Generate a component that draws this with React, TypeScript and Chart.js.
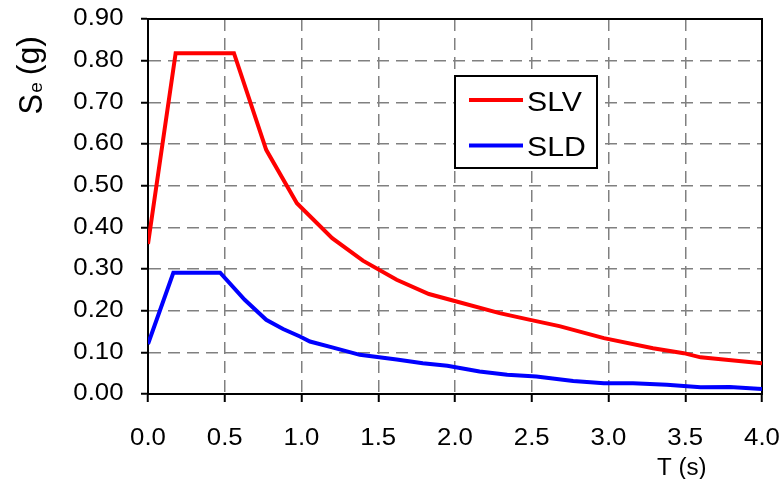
import React, { useEffect, useRef } from "react";
import { Chart, registerables } from "chart.js";

Chart.register(...registerables);

// ---- data ----
const seriesNames = ["SLV", "SLD"];
const seriesColors = ["#ff0000", "#0000ff"];

const periodsSLV = [0, 0.18, 0.56, 0.77, 0.97, 1.2, 1.4, 1.62, 1.83, 2.01, 2.29, 2.49, 2.68, 2.97, 3.29, 3.49, 3.6, 4.0];
const seSLV = [0.36, 0.818, 0.818, 0.586, 0.458, 0.374, 0.32, 0.274, 0.24, 0.222, 0.194, 0.178, 0.163, 0.134, 0.11, 0.098, 0.088, 0.074];

const periodsSLD = [0, 0.165, 0.47, 0.63, 0.77, 0.88, 0.99, 1.055, 1.2, 1.38, 1.62, 1.79, 1.95, 2.16, 2.34, 2.53, 2.77, 2.97, 3.16, 3.38, 3.6, 3.79, 4.0];
const seSLD = [0.12, 0.291, 0.291, 0.226, 0.178, 0.156, 0.138, 0.126, 0.112, 0.094, 0.083, 0.074, 0.068, 0.054, 0.046, 0.042, 0.031, 0.026, 0.026, 0.022, 0.016, 0.017, 0.012];

const xTickValues = [0, 0.5, 1, 1.5, 2, 2.5, 3, 3.5, 4];
const yTickValues = [0, 0.1, 0.2, 0.3, 0.4, 0.5, 0.6, 0.7, 0.8, 0.9];
const xTitle = "T (s)";
const yTitleMain = "S";
const yTitleSub = "e";
const yTitleUnit = "(g)";

const FONT = "'Liberation Sans', Arial, Helvetica, sans-serif";

function stretchedText(
  ctx: CanvasRenderingContext2D,
  text: string,
  x: number,
  y: number,
  font: string,
  align: CanvasTextAlign,
  baseline: CanvasTextBaseline,
  sx: number
) {
  ctx.save();
  ctx.translate(x, y);
  ctx.scale(sx, 1);
  ctx.font = font;
  ctx.textAlign = align;
  ctx.textBaseline = baseline;
  ctx.fillStyle = "#000";
  ctx.fillText(text, 0, 0);
  ctx.restore();
}

const framePlugin = {
  id: "frame",
  beforeDatasetsDraw(chart: any) {
    const { ctx, chartArea } = chart;
    ctx.save();
    ctx.strokeStyle = "#000";
    ctx.lineWidth = 2;
    ctx.strokeRect(chartArea.left, chartArea.top, chartArea.right - chartArea.left, chartArea.bottom - chartArea.top);
    ctx.restore();
  },
};

const textPlugin = {
  id: "texts",
  afterDraw(chart: any) {
    const { ctx } = chart;
    const xs = chart.scales.x;
    const ys = chart.scales.y;
    // tick labels
    xs.ticks.forEach((t: any) => {
      stretchedText(ctx, String(t.label), xs.getPixelForValue(t.value), 438.5, `23px ${FONT}`, "center", "middle", 1.12);
    });
    ys.ticks.forEach((t: any) => {
      stretchedText(ctx, String(t.label), 123.5, ys.getPixelForValue(t.value), `23px ${FONT}`, "right", "middle", 1.12);
    });
    // x title
    stretchedText(ctx, xTitle, 657, 475, `23px ${FONT}`, "left", "alphabetic", 1.05);

    // y title (rotated)
    ctx.save();
    ctx.translate(41.5, 114.5);
    ctx.rotate(-Math.PI / 2);
    ctx.fillStyle = "#000";
    ctx.textAlign = "left";
    ctx.textBaseline = "alphabetic";
    ctx.save();
    ctx.scale(0.9, 1);
    ctx.font = `34px ${FONT}`;
    ctx.fillText(yTitleMain, 0, 0);
    ctx.restore();
    ctx.font = `19px ${FONT}`;
    ctx.fillText(yTitleSub, 21.8, 0);
    ctx.font = `32px ${FONT}`;
    ctx.fillText(yTitleUnit, 39.3, -3);
    ctx.restore();

    // legend
    ctx.save();
    ctx.fillStyle = "#fff";
    ctx.fillRect(455, 76, 142, 92);
    ctx.strokeStyle = "#000";
    ctx.lineWidth = 2;
    ctx.strokeRect(455, 76, 142, 92);
    const rows = [100, 145.5];
    chart.data.datasets.forEach((ds: any, i: number) => {
      const y = rows[i];
      ctx.strokeStyle = ds.borderColor;
      ctx.lineWidth = 4;
      ctx.beginPath();
      ctx.moveTo(469, y);
      ctx.lineTo(523, y);
      ctx.stroke();
      stretchedText(ctx, ds.label, 527, y + 10.5, `28px ${FONT}`, "left", "alphabetic", 1.08);
    });
    ctx.restore();
  },
};

export default function App() {
  const canvasRef = useRef<HTMLCanvasElement | null>(null);

  useEffect(() => {
    const canvas = canvasRef.current;
    if (!canvas) return;
    const toPoints = (xs: number[], ys: number[]) => xs.map((x, i) => ({ x, y: ys[i] }));
    const gridCommon = {
      color: "#808080",
      lineWidth: 1.5,
      tickColor: "#000",
      tickWidth: 2,
    };
    const chart = new Chart(canvas, {
      type: "line",
      data: {
        datasets: [
          {
            label: seriesNames[0],
            data: toPoints(periodsSLV, seSLV),
            borderColor: seriesColors[0],
            backgroundColor: seriesColors[0],
            borderWidth: 4,
            pointRadius: 0,
            tension: 0,
            fill: false,
          },
          {
            label: seriesNames[1],
            data: toPoints(periodsSLD, seSLD),
            borderColor: seriesColors[1],
            backgroundColor: seriesColors[1],
            borderWidth: 4,
            pointRadius: 0,
            tension: 0,
            fill: false,
          },
        ],
      },
      options: {
        responsive: false,
        animation: false,
        events: [],
        layout: { padding: { left: 0, right: 21, top: 19, bottom: 0 } },
        plugins: { legend: { display: false }, tooltip: { enabled: false }, title: { display: false } },
        scales: {
          x: {
            type: "linear",
            min: xTickValues[0],
            max: xTickValues[xTickValues.length - 1],
            afterBuildTicks: (s: any) => {
              s.ticks = xTickValues.map((v) => ({ value: v }));
            },
            afterFit: (s: any) => {
              s.height = 85;
            },
            ticks: {
              display: false,
              callback: (v: any) => Number(v).toFixed(1),
            },
            grid: { ...gridCommon, tickLength: 8 },
            border: { display: true, color: "#000", width: 2, dash: [12, 7] },
          },
          y: {
            type: "linear",
            min: yTickValues[0],
            max: yTickValues[yTickValues.length - 1],
            afterBuildTicks: (s: any) => {
              s.ticks = yTickValues.map((v) => ({ value: v }));
            },
            afterFit: (s: any) => {
              s.width = 148;
            },
            ticks: {
              display: false,
              callback: (v: any) => Number(v).toFixed(2),
            },
            grid: { ...gridCommon, tickLength: 7 },
            border: { display: true, color: "#000", width: 2, dash: [12, 7] },
          },
        },
      },
      plugins: [framePlugin, textPlugin],
    } as any);
    return () => chart.destroy();
  }, []);

  return (
    <div style={{ position: "absolute", left: 0, top: 0, width: 783, height: 479, background: "#fff" }}>
      <canvas ref={canvasRef} width={783} height={479} style={{ display: "block" }} />
    </div>
  );
}
